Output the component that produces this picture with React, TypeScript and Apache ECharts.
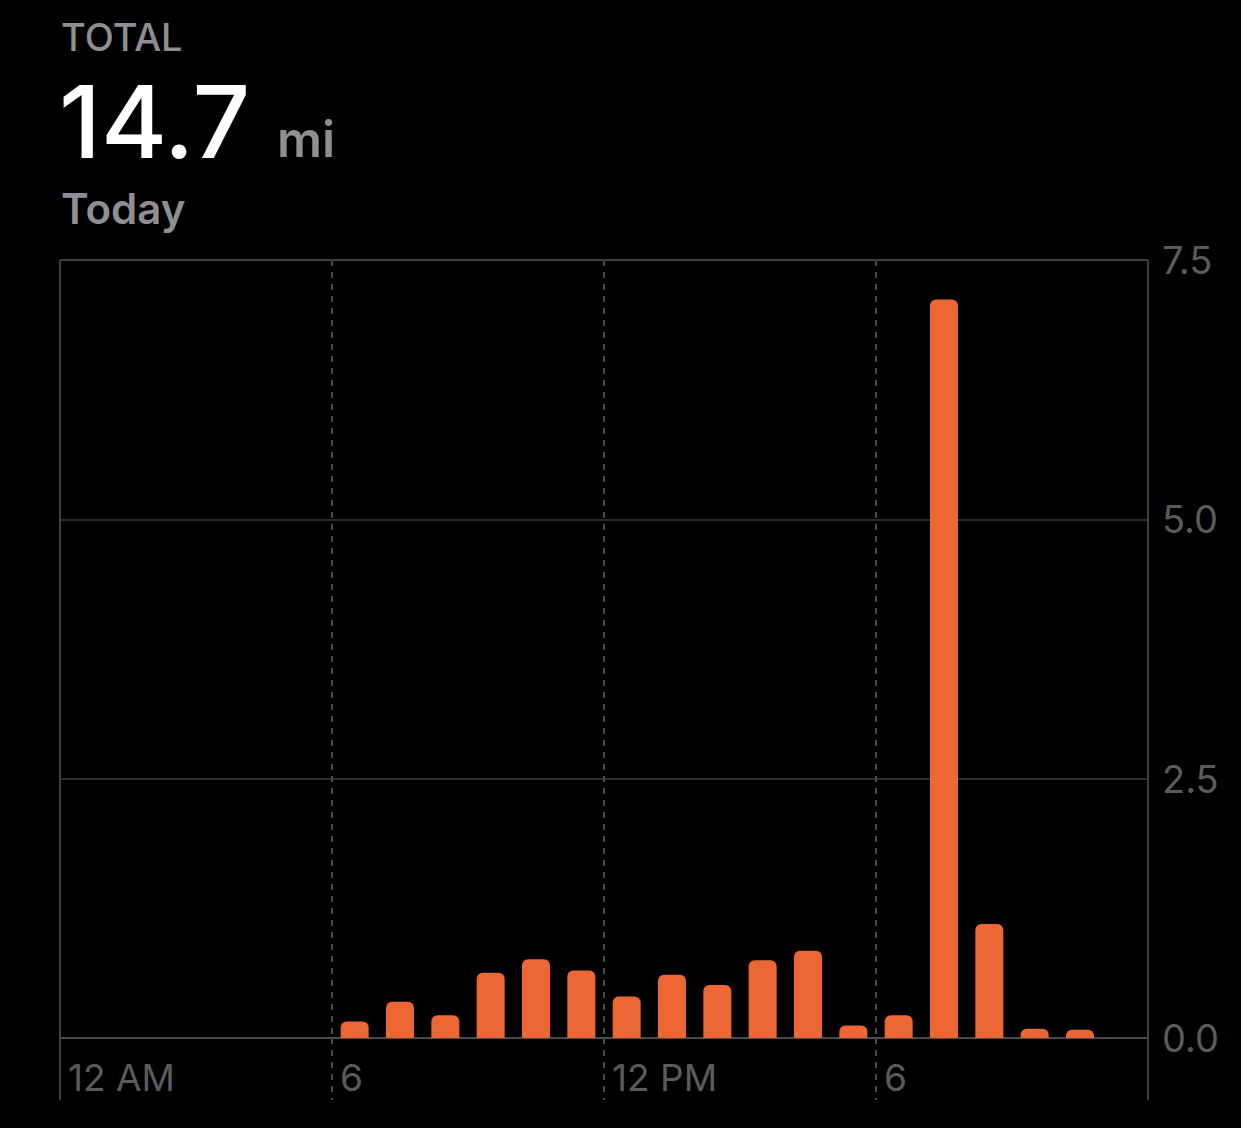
import React, { useEffect, useRef } from "react";
import * as echarts from "echarts";

const hours: number[] = [6, 7, 8, 9, 10, 11, 12, 13, 14, 15, 16, 17, 18, 19, 20, 21, 22];
const miles: number[] = [0.16, 0.35, 0.22, 0.63, 0.76, 0.65, 0.4, 0.61, 0.51, 0.75, 0.84, 0.12, 0.22, 7.12, 1.1, 0.09, 0.08];
const xTickLabels: Record<number, string> = { 0: "12 AM", 6: "6", 12: "12 PM", 18: "6", 24: "" };
const yTicks: number[] = [0, 2.5, 5, 7.5];
const totalText = "14.7";
const unitText = "mi";
const headerLabel = "TOTAL";
const periodLabel = "Today";

const W = 1241;
const H = 1128;
const GL = 60;
const GR = 1148;
const GT = 260;
const GB = 1038;
const FONT = "Inter, 'Noto Sans', sans-serif";

export default function App() {
  const ref = useRef<HTMLDivElement>(null);
  useEffect(() => {
    if (!ref.current) return;
    const chart = echarts.init(ref.current, null, { renderer: "svg" });
    const frameColor = "#3f3f41";
    chart.setOption({
      animation: false,
      backgroundColor: "#000",
      grid: { left: GL, right: W - GR, top: GT, bottom: H - GB, containLabel: false },
      xAxis: {
        type: "value",
        min: 0,
        max: 24,
        interval: 6,
        axisLine: { show: true, lineStyle: { color: "#4a4a4c", width: 2 } },
        axisTick: { show: true, length: 62, lineStyle: { color: "#4a4a4c", type: [6, 6], width: 2 } },
        splitLine: { show: true, lineStyle: { color: "#4a4a4c", type: [6, 6], width: 2 } },
        axisLabel: {
          formatter: (v: number) => xTickLabels[v] ?? "",
          color: "#5b5b5e",
          fontSize: 37,
          fontFamily: FONT,
          align: "left",
          verticalAlign: "middle",
          margin: 39,
          padding: [0, 0, 0, 8],
        },
      },
      yAxis: {
        type: "value",
        position: "right",
        min: 0,
        max: 7.5,
        interval: 2.5,
        axisLine: { show: false },
        axisTick: { show: false },
        splitLine: { show: true, lineStyle: { color: "#2c2c2e", width: 2 } },
        axisLabel: {
          formatter: (v: number) => (yTicks.includes(v) ? v.toFixed(1) : ""),
          color: "#5b5b5e",
          fontSize: 38,
          fontFamily: FONT,
          margin: 14,
        },
      },
      series: [
        {
          type: "bar",
          data: hours.map((h, i) => [h + 0.5, miles[i]]),
          barWidth: 28,
          itemStyle: { color: "#ec6734", borderRadius: [6, 6, 0, 0] },
        },
      ],
      graphic: [
        { type: "line", shape: { x1: GL, y1: GT, x2: GR, y2: GT }, style: { stroke: frameColor, lineWidth: 2 }, z: 10 },
        { type: "line", shape: { x1: GL, y1: GT, x2: GL, y2: 1100 }, style: { stroke: frameColor, lineWidth: 2 }, z: 10 },
        { type: "line", shape: { x1: GR, y1: GT, x2: GR, y2: 1100 }, style: { stroke: frameColor, lineWidth: 2 }, z: 10 },
        {
          type: "text",
          x: 61,
          y: 37,
          style: { text: headerLabel, fill: "#8e8e93", font: `500 38px ${FONT}`, verticalAlign: "middle" },
        },
        {
          type: "text",
          x: 59,
          y: 121,
          style: { text: totalText, fill: "#ffffff", font: `500 101px ${FONT}`, verticalAlign: "middle" },
        },
        {
          type: "text",
          x: 277,
          y: 139,
          style: { text: unitText, fill: "#8e8e93", font: `600 50px ${FONT}`, verticalAlign: "middle" },
        },
        {
          type: "text",
          x: 61,
          y: 208,
          style: { text: periodLabel, fill: "#8e8e93", font: `600 42px ${FONT}`, verticalAlign: "middle" },
        },
      ],
    });
    return () => chart.dispose();
  }, []);
  return <div ref={ref} style={{ position: "fixed", left: 0, top: 0, width: W, height: H, background: "#000" }} />;
}
